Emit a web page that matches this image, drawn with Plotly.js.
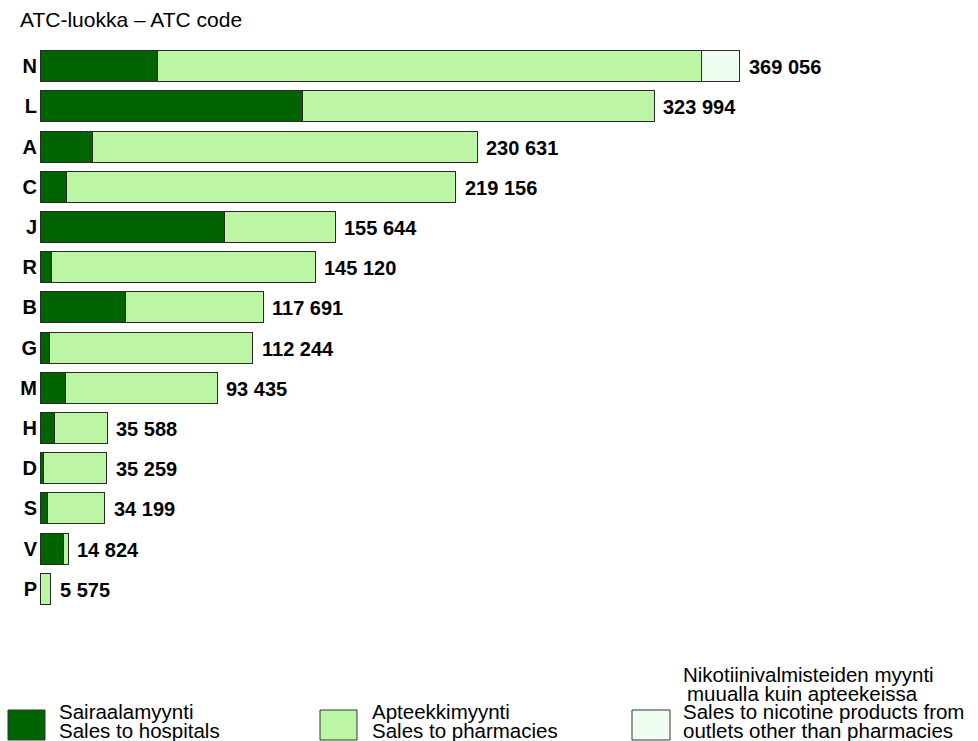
<!DOCTYPE html>
<html>
<head>
<meta charset="utf-8">
<script src="https://cdn.plot.ly/plotly-3.0.1.min.js"></script>
<style>
html,body{margin:0;padding:0;background:#fff;}
#chart{width:978px;height:741px;}
</style>
</head>
<body>
<div id="chart"></div>
<script>
// ---- data ----
const categories = ["N","L","A","C","J","R","B","G","M","H","D","S","V","P"];
const totals     = [369056,323994,230631,219156,155644,145120,117691,112244,93435,35588,35259,34199,14824,5575];
const hospital   = [61800,138200,27500,13900,97100,6000,45200,4900,13200,7400,2100,3900,12300,0];
const pharmacy   = [287056,185794,203131,205256,58544,139120,72491,107344,80235,28188,33159,30299,2524,5575];
const nicotine   = [20200,0,0,0,0,0,0,0,0,0,0,0,0,0];
const seriesNames = [
  ["Sairaalamyynti","Sales to hospitals"],
  ["Apteekkimyynti","Sales to pharmacies"],
  ["Nikotiinivalmisteiden myynti","muualla kuin apteekeissa","Sales to nicotine products from","outlets other than pharmacies"]
];
const titleText = "ATC-luokka – ATC code";

// ---- styling ----
const FONT = '"Liberation Sans", Arial, Helvetica, sans-serif';
const colors = ["#006400","#bcf5a3","#eefff1"];
const W = 978, H = 741;
const M = {l:40, r:9, t:46, b:132};
const PW = W - M.l - M.r, PH = H - M.t - M.b;
const px = x => (x - M.l) / PW;
const py = y => (H - M.b - y) / PH;

const fmt = n => String(n).replace(/\B(?=(\d{3})+(?!\d))/g, " ");

const barLine = {color:"#2a2a2a", width:1};
const traces = [
  {type:"bar", orientation:"h", y:categories, x:hospital, name:seriesNames[0].join(" "),
   marker:{color:colors[0], line:barLine}, hoverinfo:"x+y"},
  {type:"bar", orientation:"h", y:categories, x:pharmacy, name:seriesNames[1].join(" "),
   marker:{color:colors[1], line:barLine}, hoverinfo:"x+y"},
  {type:"bar", orientation:"h", y:categories, x:nicotine, name:seriesNames[2].join(" "),
   marker:{color:colors[2], line:barLine}, hoverinfo:"x+y"}
];

const annotations = categories.map((c,i) => ({
  x: totals[i], y: c, xref:"x", yref:"y", text: "<b>" + fmt(totals[i]) + "</b>",
  showarrow:false, xanchor:"left", yanchor:"middle", xshift:7, yshift:-1,
  font:{family:FONT, size:20, color:"#000"}
}));

// legend (custom, drawn in paper coordinates)
const shapes = [];
const legendItems = [
  {box:[8,45], lines:[[57,711],[57,730]]},
  {box:[320,357], lines:[[370,711],[370,730]]},
  {box:[632,670], lines:[[681,674],[685,693],[681,712],[681,730]]}
];
legendItems.forEach((it,k) => {
  shapes.push({type:"rect", xref:"paper", yref:"paper",
    x0:px(it.box[0]), x1:px(it.box[1]), y0:py(740), y1:py(710),
    fillcolor:colors[k], line:{color:"#333", width:1}});
  it.lines.forEach((ln,j) => {
    annotations.push({xref:"paper", yref:"paper", x:px(ln[0]), y:py(ln[1]),
      text: seriesNames[k][j], showarrow:false, xanchor:"left", yanchor:"middle",
      font:{family:FONT, size:20.5, color:"#000"}});
  });
});

const layout = {
  width:W, height:H, margin:M,
  paper_bgcolor:"#fff", plot_bgcolor:"#fff",
  barmode:"stack", bargap:0.23, showlegend:false,
  font:{family:FONT, size:20, color:"#000"},
  title:{text:titleText, xref:"container", yref:"container", x:20/W, xanchor:"left",
         y:1-20/H, yanchor:"middle", font:{family:FONT, size:21, color:"#000"}},
  xaxis:{range:[0,490000], visible:false, showgrid:false, zeroline:false, fixedrange:true},
  yaxis:{type:"category", categoryorder:"array", categoryarray:categories, autorange:"reversed",
         showgrid:false, zeroline:false, showline:false, ticks:"", ticklabelstandoff:2,
         tickfont:{family:FONT, size:20, color:"#000", weight:"bold"}, fixedrange:true},
  shapes:shapes, annotations:annotations
};

Plotly.newPlot("chart", traces, layout, {displayModeBar:false, staticPlot:true});
</script>
</body>
</html>
